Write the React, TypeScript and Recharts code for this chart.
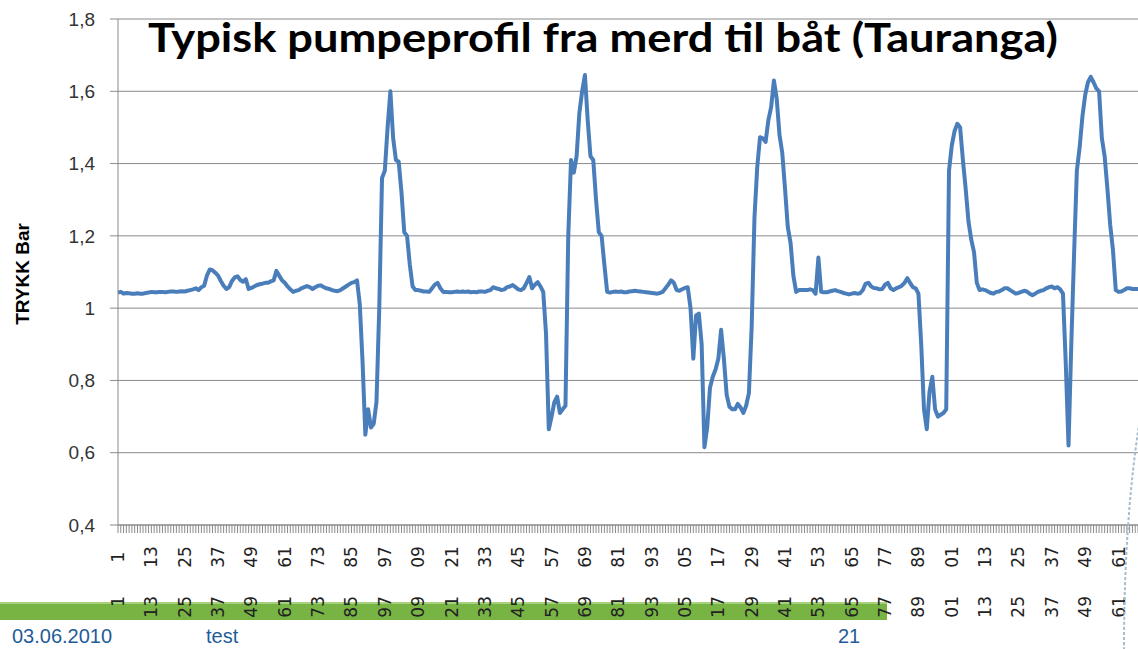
import { LineChart, Line, XAxis, YAxis, CartesianGrid } from "recharts";

// pressure readings (bar) in six chunks
const segA = [
  1.043, 1.045, 1.04, 1.042, 1.041, 1.04, 1.04, 1.041, 1.04, 1.04,
  1.042, 1.043, 1.045, 1.044, 1.044, 1.045, 1.045, 1.044, 1.045, 1.046,
  1.046, 1.045, 1.046, 1.047, 1.046, 1.048, 1.05, 1.052, 1.055, 1.05,
  1.058, 1.062, 1.09, 1.107, 1.105, 1.098, 1.09, 1.075, 1.062, 1.053,
  1.058, 1.075, 1.085, 1.088, 1.078, 1.073, 1.08, 1.053, 1.056, 1.06,
  1.064, 1.066, 1.068, 1.07, 1.07, 1.074, 1.077, 1.103, 1.09, 1.077,
];
const segB = [
  1.07, 1.06, 1.052, 1.045, 1.048, 1.05, 1.055, 1.058, 1.061, 1.058,
  1.053, 1.058, 1.062, 1.063, 1.058, 1.055, 1.053, 1.05, 1.048, 1.047,
  1.05, 1.055, 1.06, 1.065, 1.07, 1.072, 1.077, 1.01, 0.85, 0.65,
  0.72, 0.67, 0.68, 0.74, 1.0, 1.36, 1.38, 1.5, 1.6, 1.47,
  1.41, 1.405, 1.32, 1.21, 1.2, 1.12, 1.06, 1.05, 1.05, 1.048,
  1.046, 1.046, 1.045, 1.055, 1.065, 1.07, 1.055, 1.045, 1.045, 1.044,
];
const segC = [
  1.044, 1.045, 1.046, 1.045, 1.046, 1.045, 1.046, 1.044, 1.045, 1.044,
  1.046, 1.046, 1.045, 1.048, 1.05, 1.058, 1.055, 1.053, 1.05, 1.052,
  1.058, 1.06, 1.064, 1.058, 1.052, 1.05, 1.055, 1.07, 1.086, 1.055,
  1.065, 1.072, 1.06, 1.045, 0.93, 0.665, 0.7, 0.74, 0.755, 0.71,
  0.72, 0.73, 1.2, 1.41, 1.375, 1.42, 1.54, 1.6, 1.645, 1.52,
  1.42, 1.41, 1.3, 1.21, 1.2, 1.12, 1.045, 1.043, 1.045, 1.046,
];
const segD = [
  1.045, 1.046, 1.044, 1.044, 1.046, 1.047, 1.048, 1.047, 1.046, 1.045,
  1.044, 1.043, 1.042, 1.041, 1.04, 1.042, 1.045, 1.055, 1.065, 1.077,
  1.07, 1.05, 1.048, 1.052, 1.056, 1.058, 1.0, 0.86, 0.98, 0.985,
  0.9, 0.615, 0.67, 0.78, 0.81, 0.83, 0.86, 0.94, 0.86, 0.76,
  0.727, 0.72, 0.72, 0.735, 0.725, 0.71, 0.73, 0.765, 0.95, 1.25,
  1.39, 1.473, 1.47, 1.46, 1.52, 1.556, 1.63, 1.58, 1.48, 1.43,
];
const segE = [
  1.33, 1.224, 1.18, 1.09, 1.045, 1.05, 1.05, 1.05, 1.05, 1.052,
  1.05, 1.04, 1.14, 1.045, 1.044, 1.044, 1.046, 1.048, 1.05, 1.047,
  1.045, 1.042, 1.04, 1.038, 1.04, 1.042, 1.04, 1.041, 1.05, 1.068,
  1.07, 1.06, 1.056, 1.055, 1.052, 1.053, 1.065, 1.07, 1.055, 1.05,
  1.055, 1.058, 1.062, 1.07, 1.083, 1.07, 1.058, 1.055, 1.04, 0.9,
  0.72, 0.665, 0.77, 0.81, 0.72, 0.7, 0.705, 0.71, 0.72, 1.38,
];
const segF = [
  1.45, 1.49, 1.51, 1.5, 1.41, 1.33, 1.24, 1.19, 1.155, 1.07,
  1.05, 1.052, 1.05, 1.046, 1.042, 1.04, 1.045, 1.046, 1.05, 1.055,
  1.055, 1.05, 1.045, 1.04, 1.042, 1.045, 1.048, 1.046, 1.04, 1.036,
  1.04, 1.045, 1.048, 1.05, 1.055, 1.058, 1.06, 1.055, 1.058, 1.052,
  1.04, 0.85, 0.62, 0.9, 1.15, 1.38, 1.445, 1.53, 1.59, 1.625,
  1.64, 1.625, 1.608, 1.6, 1.47, 1.42, 1.33, 1.23, 1.16, 1.05,
  1.045, 1.046, 1.05, 1.055, 1.055, 1.053, 1.053, 1.053,
];

// every 12th sample gets a label; the long numbers are cut to their last two digits
const tickLabels = [
  "1", "13", "25", "37", "49", "61", "73", "85", "97",
  "09", "21", "33", "45", "57", "69", "81", "93",
  "05", "17", "29", "41", "53", "65", "77", "89",
  "01", "13", "25", "37", "49", "61",
];
const yTicks = [0.4, 0.6, 0.8, 1.0, 1.2, 1.4, 1.6, 1.8];

const pressure = [...segA, ...segB, ...segC, ...segD, ...segE, ...segF];
const data = pressure.map((v, k) => ({ n: k + 1, trykk: v }));

const font = "'Liberation Sans', Arial, sans-serif";

function XTick(props: any) {
  const { x, y, payload } = props;
  const n = payload.value as number;
  if ((n - 1) % 12 !== 0) return <g />;
  const label = tickLabels[(n - 1) / 12];
  if (label === undefined) return <g />;
  const style = { fontFamily: "'DejaVu Sans', sans-serif", fontSize: 17, fill: "#222" };
  return (
    <g>
      <text
        x={x}
        y={y + 22}
        transform={`rotate(-90, ${x}, ${y + 22})`}
        textAnchor="middle"
        dominantBaseline="central"
        style={style}
      >
        {label}
      </text>
      <text
        x={x}
        y={y + 61}
        transform={`rotate(-90, ${x}, ${y + 61})`}
        textAnchor="end"
        dominantBaseline="central"
        style={style}
      >
        {label}
      </text>
    </g>
  );
}

export default function App() {
  const footer = { fontFamily: font, fontSize: 20, fill: "#1f5c99" };
  return (
    <div
      style={{
        position: "fixed",
        top: 0,
        left: 0,
        width: 1138,
        height: 649,
        overflow: "hidden",
        background: "#fff",
      }}
    >
      {/* green footer band sits behind the axis labels */}
      <svg width={1138} height={649} style={{ position: "absolute", top: 0, left: 0 }}>
        <rect x={0} y={602} width={887} height={18} fill="#78b444" />
        <rect x={0} y={602} width={887} height={2} fill="#a6d27e" />
      </svg>

      <div style={{ position: "absolute", top: 0, left: 0 }}>
        <LineChart
          width={1160}
          height={649}
          data={data}
          margin={{ top: 19, right: 22, bottom: 0, left: 0 }}
        >
          <CartesianGrid vertical={false} stroke="#8a8a8a" />
          <XAxis
            dataKey="n"
            interval={0}
            tickSize={8}
            height={124}
            stroke="#8a8a8a"
            tick={(p: any) => <XTick {...p} />}
          />
          <YAxis
            domain={[0.4, 1.8]}
            ticks={yTicks}
            width={118}
            tickSize={8}
            tickMargin={15}
            stroke="#8a8a8a"
            tick={{ fontFamily: font, fontSize: 19, fill: "#333" }}
            tickFormatter={(v: number) => String(+v.toFixed(1)).replace(".", ",")}
          />
          <Line
            type="linear"
            dataKey="trykk"
            stroke="#4a7ebb"
            strokeWidth={4}
            strokeLinejoin="round"
            dot={false}
            isAnimationActive={false}
          />
        </LineChart>
      </div>

      <svg
        width={1138}
        height={649}
        style={{ position: "absolute", top: 0, left: 0, pointerEvents: "none" }}
      >
        <text
          x={148}
          y={52}
          textLength={910}
          lengthAdjust="spacingAndGlyphs"
          style={{ fontFamily: "Lato, 'Open Sans', sans-serif", fontWeight: 700, fontSize: 40, fill: "#000" }}
        >
          Typisk pumpeprofil fra merd til båt (Tauranga)
        </text>
        <text
          x={22}
          y={274}
          transform="rotate(-90, 22, 274)"
          textAnchor="middle"
          dominantBaseline="central"
          style={{ fontFamily: font, fontWeight: 700, fontSize: 19, fill: "#000" }}
        >
          TRYKK Bar
        </text>
        <text x={12} y={643} style={footer}>
          03.06.2010
        </text>
        <text x={206} y={643} style={footer}>
          test
        </text>
        <text x={838} y={643} style={footer}>
          21
        </text>
        <path
          d="M1140 418 Q1124 520 1124 649"
          fill="none"
          stroke="#a7bccd"
          strokeWidth={2}
          strokeDasharray="3 2"
        />
      </svg>
    </div>
  );
}
